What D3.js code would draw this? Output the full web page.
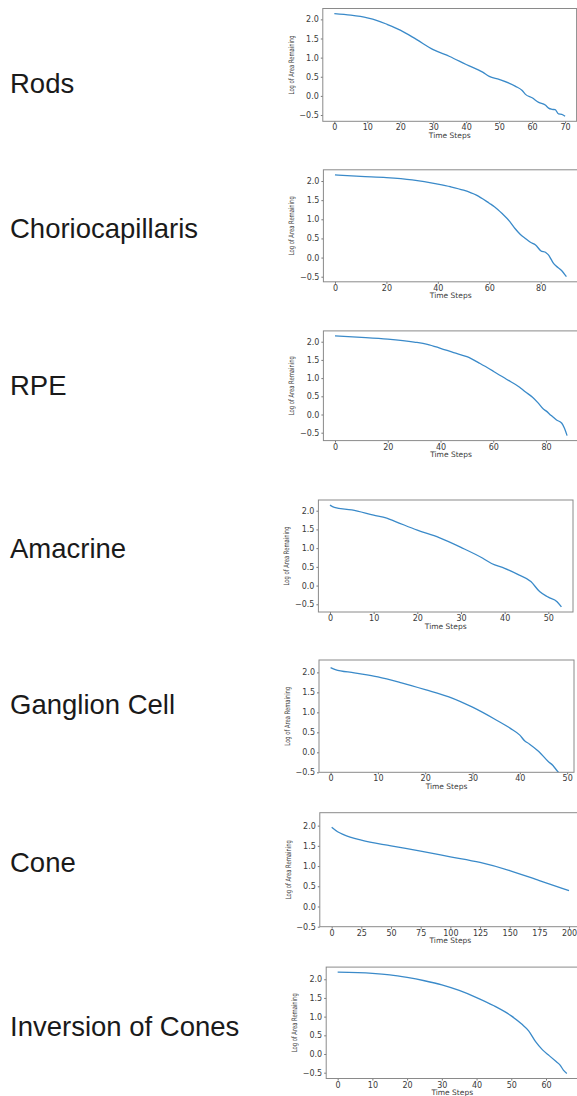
<!DOCTYPE html>
<html><head><meta charset="utf-8">
<script src="https://cdn.jsdelivr.net/npm/d3@7"></script>
<style>
html,body{margin:0;padding:0;background:#fff;}
svg{display:block;}
</style></head>
<body>
<svg id="chart" width="577" height="1096"></svg>
<script>
// ---- data ----
const panelNames = ["Rods","Choriocapillaris","RPE","Amacrine","Ganglion Cell","Cone","Inversion of Cones"];

const rodsSteps  = [0,5,10,13,16,20,25,30,35,40,45,47,50,55,57,58,60,62,64,65,66,67,68,69,70];
const rodsValues = [2.15,2.11,2.04,1.97,1.87,1.72,1.47,1.21,1.03,0.82,0.62,0.51,0.43,0.25,0.14,0.04,-0.05,-0.17,-0.24,-0.32,-0.35,-0.36,-0.47,-0.48,-0.53];

const chorioSteps  = [0,10,20,30,40,45,50,55,60,62,65,68,70,72,74,76,78,80,82,83,84,85,86,88,90];
const chorioValues = [2.16,2.12,2.09,2.03,1.92,1.85,1.76,1.63,1.42,1.33,1.15,0.94,0.76,0.61,0.50,0.40,0.33,0.18,0.13,0.07,-0.04,-0.15,-0.22,-0.33,-0.50];

const rpeSteps  = [0,10,20,30,35,40,45,50,55,60,65,70,72,75,77,79,80,82,84,86,87,88];
const rpeValues = [2.16,2.12,2.07,1.99,1.93,1.82,1.70,1.59,1.40,1.19,0.97,0.75,0.63,0.47,0.32,0.15,0.10,-0.03,-0.15,-0.24,-0.38,-0.58];

const amacrineSteps  = [0,1,5,10,13,15,20,25,30,35,37,40,43,46,48,50,52,53];
const amacrineValues = [2.15,2.09,2.02,1.88,1.80,1.71,1.48,1.28,1.02,0.73,0.59,0.46,0.30,0.11,-0.16,-0.31,-0.43,-0.57];

const ganglionSteps  = [0,1,5,10,15,20,25,30,35,38,40,41,42,44,46,47,48,49];
const ganglionValues = [2.12,2.07,1.99,1.89,1.74,1.57,1.39,1.13,0.81,0.60,0.43,0.29,0.21,0.02,-0.23,-0.33,-0.48,-0.58];

const coneSteps  = [0,5,10,25,50,75,100,125,150,175,200];
const coneValues = [1.96,1.85,1.78,1.64,1.50,1.37,1.23,1.09,0.89,0.64,0.39];

const inversionSteps  = [0,10,15,20,25,30,35,40,45,50,53,55,57,59,61,63,64,65,66];
const inversionValues = [2.19,2.16,2.12,2.05,1.96,1.85,1.70,1.51,1.29,1.02,0.80,0.62,0.33,0.11,-0.05,-0.21,-0.29,-0.43,-0.52];

const yTicks = [-0.5,0.0,0.5,1.0,1.5,2.0];
const rodsXTicks = [0,10,20,30,40,50,60,70];
const chorioXTicks = [0,20,40,60,80];
const rpeXTicks = [0,20,40,60,80];
const amacrineXTicks = [0,10,20,30,40,50];
const ganglionXTicks = [0,10,20,30,40,50];
const coneXTicks = [0,25,50,75,100,125,150,175,200];
const inversionXTicks = [0,10,20,30,40,50,60];

const xLabel = "Time Steps";
const yLabel = "Log of Area Remaining";

// ---- layout (pixel boxes) ----
const panels = [
  {steps: rodsSteps, values: rodsValues, xt: rodsXTicks, box:[322.8,8.5,576.6,121.3], labelY:92.7},
  {steps: chorioSteps, values: chorioValues, xt: chorioXTicks, box:[323.4,169.8,578,281.8], labelY:238.3},
  {steps: rpeSteps, values: rpeValues, xt: rpeXTicks, box:[323.4,330.9,578.7,440.6], labelY:395},
  {steps: amacrineSteps, values: amacrineValues, xt: amacrineXTicks, box:[318.4,500,573,612], labelY:558},
  {steps: ganglionSteps, values: ganglionValues, xt: ganglionXTicks, box:[319,660,574,772.3], labelY:714.3, yDom:[-0.5,2.31]},
  {steps: coneSteps, values: coneValues, xt: coneXTicks, box:[319.8,812.7,580.9,926.7], labelY:872, yDom:[-0.5,2.32]},
  {steps: inversionSteps, values: inversionValues, xt: inversionXTicks, box:[326.2,967.1,578.3,1078.5], labelY:1035.7}
];

const svg = d3.select("#chart");
const fmt = d3.format(".1f");

panels.forEach((p, i) => {
  const [L,T,R,B] = p.box;
  const xe = d3.extent(p.steps), ye = d3.extent(p.values);
  const xp = (xe[1]-xe[0])*0.05, yp = (ye[1]-ye[0])*0.05;
  const x = d3.scaleLinear().domain([xe[0]-xp, xe[1]+xp]).range([L,R]);
  const y = d3.scaleLinear().domain(p.yDom || [ye[0]-yp, ye[1]+yp]).range([B,T]);

  // left label
  svg.append("text").attr("x",10).attr("y",p.labelY)
    .attr("font-family","Liberation Sans, Arial, sans-serif")
    .attr("font-size",27.5).attr("fill","#1a1a1a").text(panelNames[i]);

  const g = svg.append("g");
  const clipId = "clip"+i;
  g.append("clipPath").attr("id",clipId).append("rect")
    .attr("x",L).attr("y",T).attr("width",R-L).attr("height",B-T);

  // axes
  const ya = g.append("g").attr("transform",`translate(${L},0)`)
    .call(d3.axisLeft(y).tickValues(yTicks).tickFormat(fmt).tickSize(2).tickPadding(2));
  const xa = g.append("g").attr("transform",`translate(0,${B})`)
    .call(d3.axisBottom(x).tickValues(p.xt).tickFormat(d3.format("d")).tickSize(2).tickPadding(1.5));
  [ya,xa].forEach(a=>{
    a.select(".domain").remove();
    a.selectAll(".tick line").attr("stroke","#555").attr("stroke-width",0.8);
    a.selectAll(".tick text").attr("font-family","DejaVu Sans, sans-serif")
      .attr("font-size",8).attr("fill","#3a3a3a");
  });

  // line
  const line = d3.line().x((d,k)=>x(p.steps[k])).y(d=>y(d)).curve(d3.curveMonotoneX);
  g.append("path").datum(p.values).attr("d",line)
    .attr("clip-path",`url(#${clipId})`)
    .attr("fill","none").attr("stroke","#3a8ac9").attr("stroke-width",1.3)
    .attr("stroke-linejoin","round");

  // frame
  g.append("rect").attr("x",L).attr("y",T).attr("width",R-L).attr("height",B-T)
    .attr("fill","none").attr("stroke","#8a8a8a").attr("stroke-width",1);

  // axis labels
  g.append("text").attr("x",(L+R)/2).attr("y",B+16.5).attr("text-anchor","middle")
    .attr("font-family","DejaVu Sans, sans-serif").attr("font-size",7.5).attr("fill","#3a3a3a")
    .text(xLabel);
  const cy = (T+B)/2, cx = L-31.5;
  g.append("text").attr("transform",`translate(${cx+2.5},${cy}) rotate(-90)`)
    .attr("text-anchor","middle")
    .attr("font-family","DejaVu Sans, sans-serif").attr("font-size",7.5).attr("fill","#3a3a3a")
    .attr("textLength",59).attr("lengthAdjust","spacingAndGlyphs")
    .text(yLabel);
});
</script>
</body></html>
